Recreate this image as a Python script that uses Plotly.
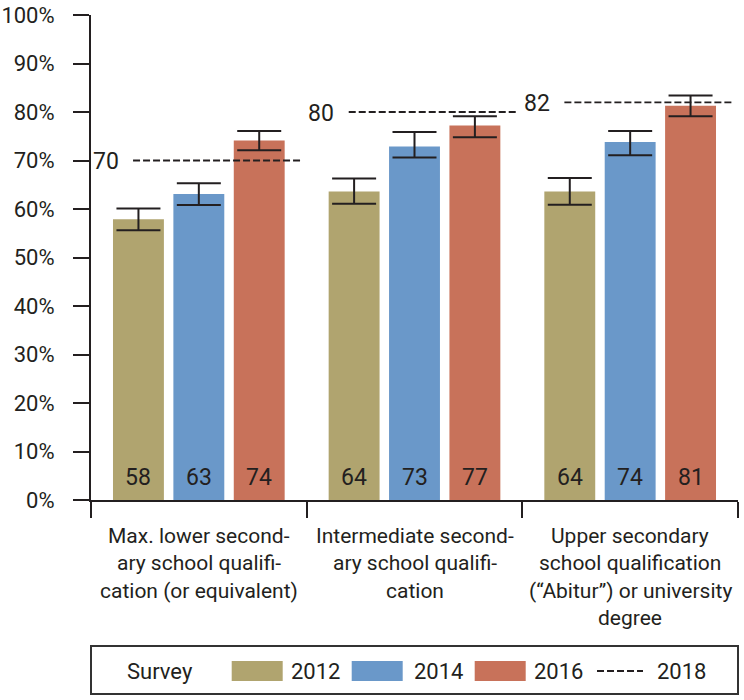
import plotly.graph_objects as go

# ---------------- data ----------------
categories = [
    ["Max. lower second-", "ary school qualifi-", "cation (or equivalent)"],
    ["Intermediate second-", "ary school qualifi-", "cation"],
    ["Upper secondary", "school qualification", "(“Abitur”) or university", "degree"],
]
years = ["2012", "2014", "2016"]
values_2012 = [57.9, 63.6, 63.6]
values_2014 = [63.1, 72.9, 73.8]
values_2016 = [74.1, 77.2, 81.3]
labels_2012 = [58, 64, 64]
labels_2014 = [63, 73, 74]
labels_2016 = [74, 77, 81]
upper_2012 = [60.1, 66.3, 66.4]
lower_2012 = [55.6, 61.1, 60.9]
upper_2014 = [65.3, 75.9, 76.1]
lower_2014 = [60.8, 70.6, 71.1]
upper_2016 = [76.1, 79.1, 83.4]
lower_2016 = [72.1, 74.8, 79.1]
values_2018 = [70, 80, 82]
y_ticks = [0, 10, 20, 30, 40, 50, 60, 70, 80, 90, 100]

# ---------------- style ----------------
FONT = "Roboto, Liberation Sans, sans-serif"
TXT = "#231f20"
colors = ["#b0a46f", "#6a98c9", "#c8725a"]
DASH = "7px,3px"

W, H = 744, 700
ML, MR, MT, MB = 91, 6, 15, 200
PX0, PX1 = ML, W - MR
PY0, PY1 = MT, H - MB


def px_x(X):
    return (X - PX0) / (PX1 - PX0)


def px_y(Y):
    return (PY1 - Y) / (PY1 - PY0)


fig = go.Figure()
x_pos = list(range(len(categories)))
series = [
    (values_2012, labels_2012, upper_2012, lower_2012),
    (values_2014, labels_2014, upper_2014, lower_2014),
    (values_2016, labels_2016, upper_2016, lower_2016),
]
for k, (vals, labs, up, lo) in enumerate(series):
    fig.add_trace(go.Bar(
        x=x_pos, y=vals, name=years[k],
        marker=dict(color=colors[k], line=dict(width=0)),
        error_y=dict(type="data", symmetric=False,
                     array=[u - v for u, v in zip(up, vals)],
                     arrayminus=[v - l for v, l in zip(vals, lo)],
                     color=TXT, thickness=2, width=22),
        showlegend=False, hoverinfo="skip",
    ))

# 2018 dashed reference lines
dx, dy = [], []
for i, v in enumerate(values_2018):
    dx += [i - 0.305, i + 0.47, None]
    dy += [v, v, None]
fig.add_trace(go.Scatter(x=dx, y=dy, mode="lines", name="2018",
                         line=dict(color=TXT, width=1.8, dash=DASH),
                         showlegend=False, hoverinfo="skip"))

annotations = []
# value labels inside the bars, near the base
slot = (1 - 0.16) / 3
for k, (vals, labs, up, lo) in enumerate(series):
    for i, lab in enumerate(labs):
        annotations.append(dict(x=i + (k - 1) * slot, y=0, xref="x", yref="y",
                                text=str(lab), showarrow=False, xanchor="center",
                                yanchor="middle", yshift=500 - 477.5,
                                font=dict(family=FONT, size=23, color=TXT)))

for i, v in enumerate(values_2018):
    annotations.append(dict(x=i - 0.362, y=v, xref="x", yref="y", text=str(v),
                            showarrow=False, xanchor="right", yanchor="middle",
                            yshift=-1, font=dict(family=FONT, size=23, color=TXT)))

# category labels (line by line)
line_centers = [535.5, 563.0, 590.5, 618.0]
for i, lines in enumerate(categories):
    for j, ln in enumerate(lines):
        annotations.append(dict(x=i, y=px_y(line_centers[j]), xref="x", yref="paper",
                                text=ln, showarrow=False, xanchor="center",
                                yanchor="middle",
                                font=dict(family=FONT, size=21, color=TXT)))

# custom legend
shapes = []
shapes.append(dict(type="rect", xref="paper", yref="paper",
                   x0=px_x(91), x1=px_x(738), y0=px_y(694), y1=px_y(646),
                   line=dict(color="#333333", width=2), fillcolor="rgba(0,0,0,0)"))
annotations.append(dict(x=px_x(125), y=px_y(671), xref="paper", yref="paper",
                        text="Survey", showarrow=False, xanchor="left", yanchor="middle",
                        font=dict(family=FONT, size=22, color=TXT)))
swatch_x = [231.7, 351.7, 474.7]
text_x = [289, 412, 532]
for k in range(3):
    shapes.append(dict(type="rect", xref="paper", yref="paper",
                       x0=px_x(swatch_x[k]), x1=px_x(swatch_x[k] + 51),
                       y0=px_y(681), y1=px_y(661),
                       line=dict(width=0), fillcolor=colors[k]))
    annotations.append(dict(x=px_x(text_x[k]), y=px_y(671), xref="paper", yref="paper",
                            text=years[k], showarrow=False, xanchor="left",
                            yanchor="middle", font=dict(family=FONT, size=22, color=TXT)))
shapes.append(dict(type="line", xref="paper", yref="paper",
                   x0=px_x(597), x1=px_x(643), y0=px_y(671), y1=px_y(671),
                   line=dict(color=TXT, width=1.8, dash=DASH)))
annotations.append(dict(x=px_x(655), y=px_y(671), xref="paper", yref="paper",
                        text="2018", showarrow=False, xanchor="left", yanchor="middle",
                        font=dict(family=FONT, size=22, color=TXT)))

fig.update_layout(
    width=W, height=H,
    margin=dict(l=ML, r=MR, t=MT, b=MB, pad=0, autoexpand=False),
    paper_bgcolor="white", plot_bgcolor="white",
    barmode="group", bargap=0.16, bargroupgap=0.157,
    font=dict(family=FONT, size=22, color=TXT),
    showlegend=False,
    annotations=annotations, shapes=shapes,
    xaxis=dict(range=[-0.5, 2.5], tickmode="array", tickvals=[-0.5, 0.5, 1.5, 2.5],
               ticktext=["", "", "", ""], ticks="outside", ticklen=16, tickwidth=2,
               tickcolor=TXT, showline=True, linecolor=TXT, linewidth=2,
               showgrid=False, zeroline=False, fixedrange=True, automargin=False),
    yaxis=dict(range=[0, 100], tickmode="array", tickvals=y_ticks,
               ticktext=[f"{t}%" for t in y_ticks], ticks="outside", ticklen=16,
               tickwidth=2, tickcolor=TXT, showline=True, linecolor=TXT, linewidth=2,
               showgrid=False, zeroline=False, ticklabelstandoff=14,
               tickfont=dict(family=FONT, size=22, color=TXT), fixedrange=True,
               automargin=False),
)

fig.write_html("out.html", config={"displayModeBar": False},
               post_script="document.body.style.margin='0';document.body.style.overflow='hidden';")
